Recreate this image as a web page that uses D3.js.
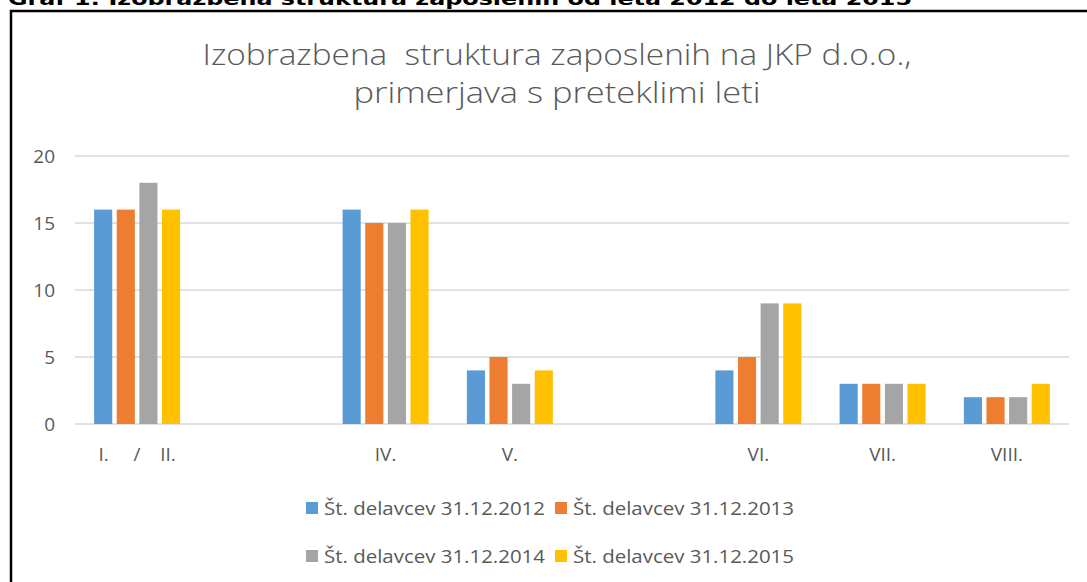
<!DOCTYPE html>
<html>
<head>
<meta charset="utf-8">
<script src="https://cdn.jsdelivr.net/npm/d3@7"></script>
<style>
  html, body { margin: 0; padding: 0; background: #fff; }
  svg { display: block; }
</style>
</head>
<body>
<svg id="chart" width="1087" height="582"></svg>
<script>
const caption = "Graf 1: Izobrazbena struktura zaposlenih od leta 2012 do leta 2015";
const titleLines = ["Izobrazbena  struktura zaposlenih na JKP d.o.o.,", "primerjava s preteklimi leti"];
const categories = ["I.     /    II.", "", "IV.", "V.", "", "VI.", "VII.", "VIII."];
const seriesNames = ["Št. delavcev 31.12.2012", "Št. delavcev 31.12.2013", "Št. delavcev 31.12.2014", "Št. delavcev 31.12.2015"];
const values2012 = [16, null, 16, 4, null, 4, 3, 2];
const values2013 = [16, null, 15, 5, null, 5, 3, 2];
const values2014 = [18, null, 15, 3, null, 9, 3, 2];
const values2015 = [16, null, 16, 4, null, 9, 3, 3];
const yTicks = [0, 5, 10, 15, 20];
const colors = ["#5B9BD5", "#ED7D31", "#A5A5A5", "#FFC000"];

const seriesValues = [values2012, values2013, values2014, values2015];
const svg = d3.select("#chart");
const textColor = "#595959";
const font = "'Open Sans', sans-serif";

// caption (cut at top)
svg.append("text").attr("x", 8).attr("y", 5)
  .attr("font-family", "'DejaVu Sans', Verdana, sans-serif").attr("font-weight", "bold")
  .attr("font-size", 17).attr("fill", "#000")
  .attr("textLength", 904).attr("lengthAdjust", "spacingAndGlyphs")
  .text(caption);

// frame
svg.append("path").attr("d", "M11,600 V11 H1100")
  .attr("fill", "none").attr("stroke", "#000").attr("stroke-width", 2.5);

// title
const titleY = [65, 103];
const titleW = [709, 407];
titleLines.forEach((t, i) => {
  svg.append("text").attr("x", 557).attr("y", titleY[i])
    .attr("text-anchor", "middle").attr("font-family", font).attr("font-weight", 300)
    .attr("font-size", 29).attr("fill", textColor)
    .attr("textLength", titleW[i]).attr("lengthAdjust", "spacingAndGlyphs")
    .style("white-space", "pre")
    .text(t);
});

const x = d3.scaleBand().domain(d3.range(categories.length)).range([75, 1069]).padding(0);
const xSub = d3.scaleBand().domain(d3.range(seriesNames.length)).range([19.1, 105.1]).paddingInner(0.2);
const y = d3.scaleLinear().domain([0, 20]).range([424, 156]);

// gridlines
svg.append("g").selectAll("line").data(yTicks).join("line")
  .attr("x1", 75).attr("x2", 1069)
  .attr("y1", d => y(d)).attr("y2", d => y(d))
  .attr("stroke", "#D9D9D9").attr("stroke-width", 1.5);

// y axis labels
const yAxis = d3.axisLeft(y).tickValues(yTicks).tickSize(0).tickPadding(0);
const yg = svg.append("g").attr("transform", "translate(55,0)").call(yAxis);
yg.select(".domain").remove();
yg.selectAll("text").attr("font-family", font).attr("font-size", 19).attr("fill", textColor).attr("dy", "0.36em");

// x axis labels
const xAxis = d3.axisBottom(x).tickFormat(i => categories[i]).tickSize(0).tickPadding(0);
const xg = svg.append("g").attr("transform", "translate(0,447)").call(xAxis);
xg.select(".domain").remove();
xg.selectAll("text").attr("font-family", font).attr("font-size", 19).attr("fill", textColor)
  .attr("dy", "0.72em").style("white-space", "pre");

// bars
seriesValues.forEach((vals, s) => {
  svg.append("g").selectAll("rect")
    .data(vals.map((v, i) => ({ v, i })).filter(d => d.v != null))
    .join("rect")
    .attr("x", d => x(d.i) + xSub(s))
    .attr("width", xSub.bandwidth())
    .attr("y", d => y(d.v))
    .attr("height", d => y(0) - y(d.v))
    .attr("fill", colors[s]);
});

// legend
const legendPos = [[306, 502], [555, 502], [306, 550], [555, 550]];
seriesNames.forEach((name, s) => {
  const [lx, ly] = legendPos[s];
  svg.append("rect").attr("x", lx).attr("y", ly).attr("width", 12).attr("height", 12).attr("fill", colors[s]);
  svg.append("text").attr("x", lx + 18).attr("y", ly + 13)
    .attr("font-family", font).attr("font-size", 19).attr("fill", textColor)
    .attr("textLength", 221).attr("lengthAdjust", "spacingAndGlyphs")
    .text(name);
});
</script>
</body>
</html>
